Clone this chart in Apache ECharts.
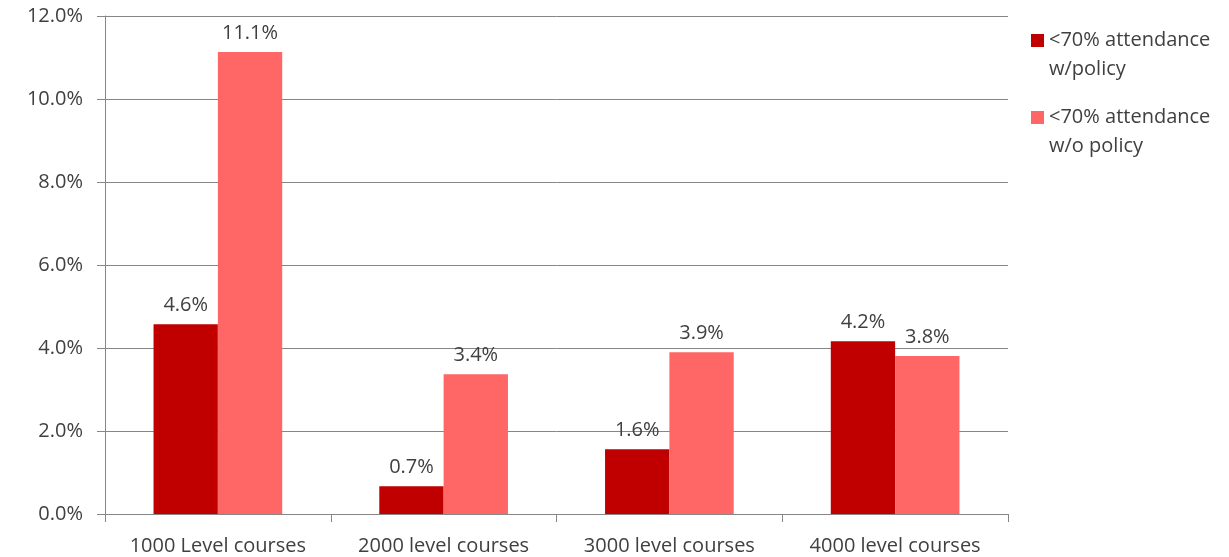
<!DOCTYPE html>
<html>
<head>
<meta charset="utf-8">
<script src="https://cdn.jsdelivr.net/npm/echarts@6/dist/echarts.min.js"></script>
<style>html,body{margin:0;padding:0;background:#fff}#c{width:1229px;height:557px}</style>
</head>
<body>
<div id="c"></div>
<script>
const categories = ['1000 Level courses', '2000 level courses', '3000 level courses', '4000 level courses'];
const withPolicy = [4.57, 0.67, 1.56, 4.16];
const withoutPolicy = [11.13, 3.37, 3.9, 3.81];
const seriesNames = ['<70% attendance\nw/policy', '<70% attendance\nw/o policy'];
const yTicks = { min: 0, max: 12, interval: 2 };

const FONT = 'Open Sans';
const FS = 20;
const TXT = '#404040';
const chart = echarts.init(document.getElementById('c'));
const pct = v => Number(v).toFixed(1) + '%';
const icon = 'path://M0,0L13,0L13,13L0,13Z M0,42L0.001,42';
chart.setOption({
  animation: false,
  textStyle: { fontFamily: FONT },
  grid: { left: 105, right: 221, top: 16, bottom: 43, containLabel: false },
  legend: {
    orient: 'vertical', left: 1031, top: 26, padding: 0,
    itemWidth: 13, itemHeight: 42, itemGap: 19,
    icon: icon,
    textStyle: { fontFamily: FONT, fontSize: FS, color: TXT, lineHeight: 29 },
    data: seriesNames
  },
  xAxis: {
    type: 'category', data: categories,
    axisLine: { lineStyle: { color: '#868686', width: 1 } },
    axisTick: { show: true, length: 8, alignWithLabel: false, lineStyle: { color: '#868686' } },
    axisLabel: { color: TXT, fontSize: FS, fontFamily: FONT, margin: 22, interval: 0 }
  },
  yAxis: {
    type: 'value', min: yTicks.min, max: yTicks.max, interval: yTicks.interval,
    axisLine: { show: true, lineStyle: { color: '#868686', width: 1 } },
    axisTick: { show: true, length: 8, lineStyle: { color: '#868686' } },
    splitLine: { lineStyle: { color: '#868686', width: 1 } },
    axisLabel: { color: TXT, fontSize: FS, fontFamily: FONT, margin: 22, formatter: pct }
  },
  series: [
    {
      name: seriesNames[0], type: 'bar', data: withPolicy,
      barGap: '0%', barCategoryGap: '43%',
      itemStyle: { color: '#C00000' },
      label: { show: true, position: 'top', distance: 9, color: TXT, fontSize: FS, fontFamily: FONT, formatter: p => pct(p.value) }
    },
    {
      name: seriesNames[1], type: 'bar', data: withoutPolicy,
      barGap: '0%', barCategoryGap: '43%',
      itemStyle: { color: '#FF6666' },
      label: { show: true, position: 'top', distance: 9, color: TXT, fontSize: FS, fontFamily: FONT, formatter: p => pct(p.value) }
    }
  ]
});
</script>
</body>
</html>
